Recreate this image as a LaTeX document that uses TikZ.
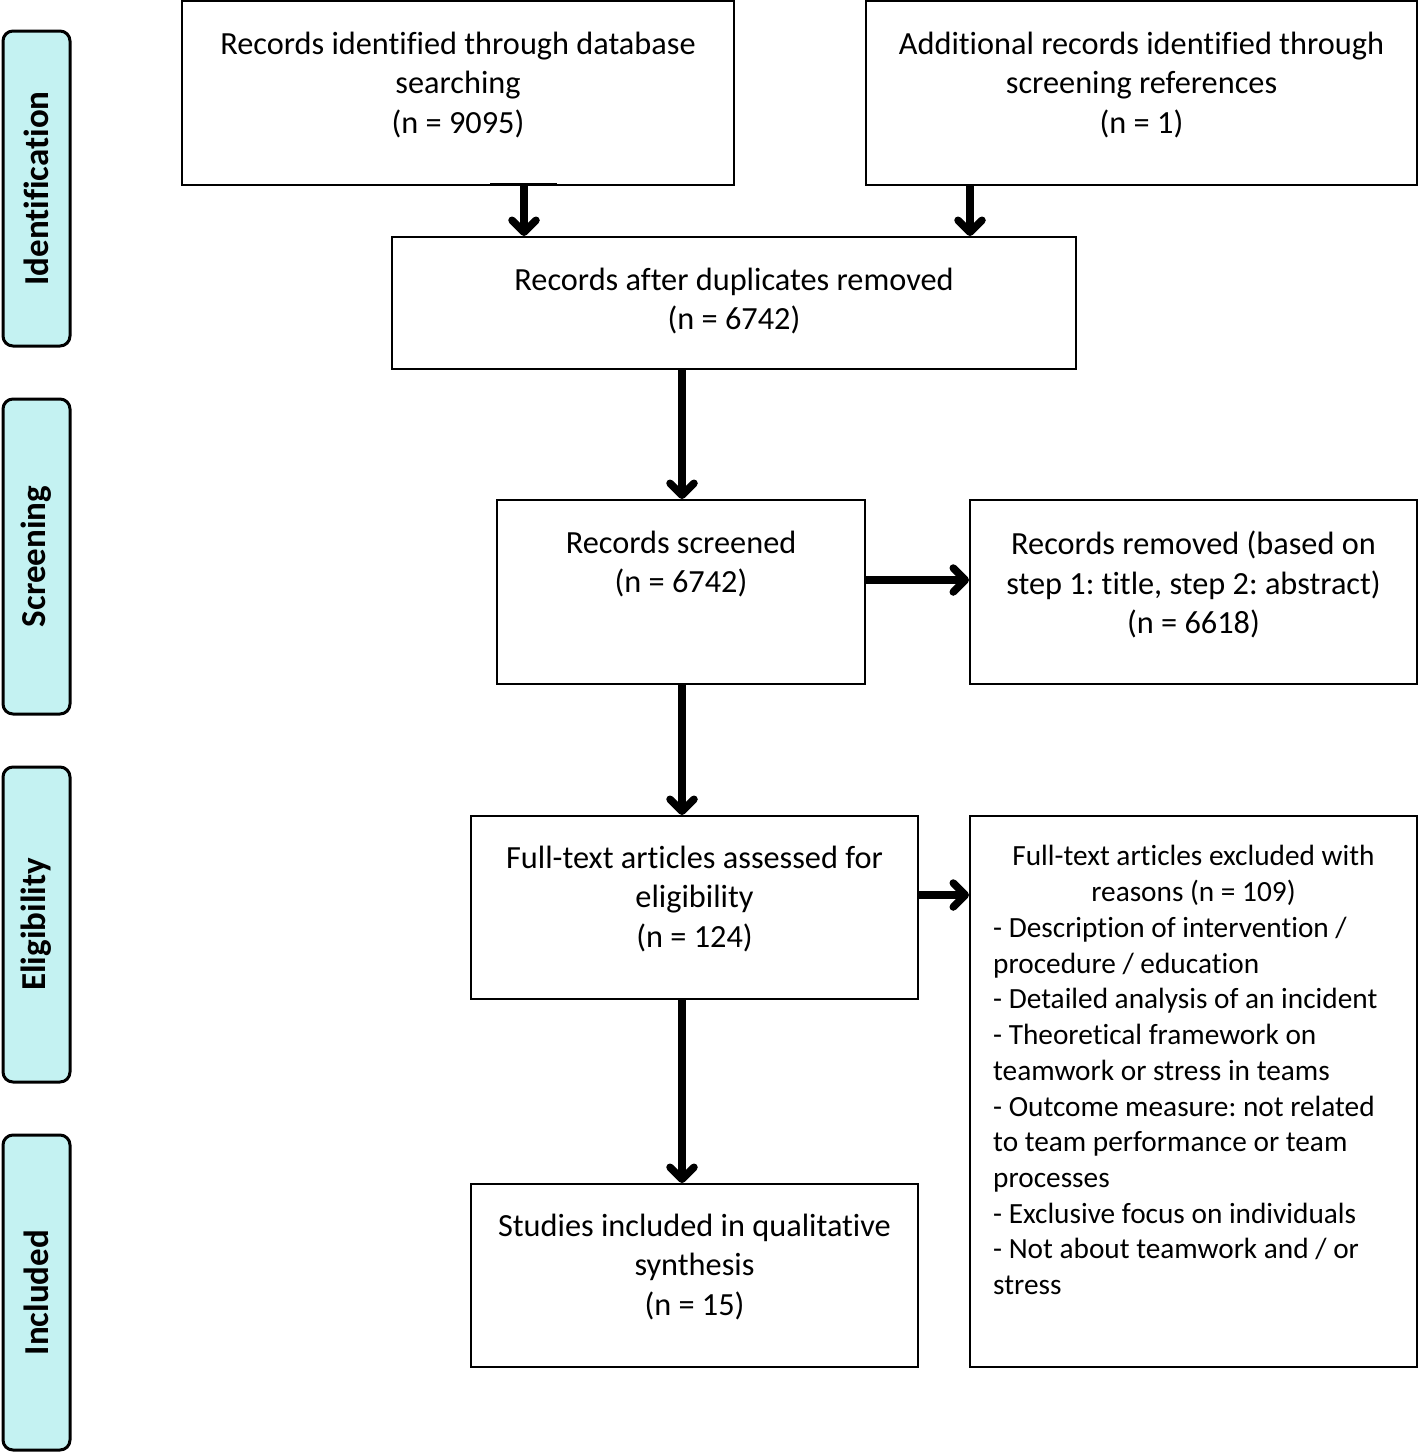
\documentclass[tikz,border=0pt]{standalone}
\usepackage{fontspec}
\setmainfont{Carlito}[Ligatures=NoCommon]
\frenchspacing
\usetikzlibrary{arrows.meta,fit}
\definecolor{sidefill}{HTML}{C4F2F2}
\begin{document}
\begin{tikzpicture}[x=1pt,y=-1pt,
  box/.style={draw, line width=2pt, inner sep=0pt},
  txt/.style={align=center, inner sep=0pt, font=\fontsize{32.3}{39.3}\selectfont},
  smalltxt/.style={inner sep=0pt, font=\fontsize{29.3}{35.7}\selectfont},
  side/.style={draw, line width=3pt, rounded corners=10pt, fill=sidefill, inner sep=0pt},
  sidetxt/.style={rotate=90, inner sep=0pt, font=\fontsize{35}{40}\selectfont\bfseries},
  arr/.style={line width=7.5pt, -{Straight Barb[length=12pt,width=24pt,round]}}]
\useasboundingbox (0,0) rectangle (1419,1452);
% side labels
\node[side, fit={(3,31)(70,346)}] (S1) {};
\node[sidetxt] (S1t) at (S1.center) {Identification};
\node[side, fit={(3,399)(70,714)}] (S2) {};
\node[sidetxt] (S2t) at (S2.center) {Screening};
\node[side, fit={(3,767)(70,1082)}] (S3) {};
\node[sidetxt] (S3t) at (S3.center) {Eligibility};
\node[side, fit={(3,1135)(70,1450)}] (S4) {};
\node[sidetxt] (S4t) at (S4.center) {Included};
% boxes
\node[box, fit={(182,1)(734,185)}] (A) {};
\node[txt, anchor=north] (At) at (458,32) {Records identified through database\\searching\\(n = 9095)};
\node[box, fit={(866,1)(1417,185)}] (B) {};
\node[txt, anchor=north] (Bt) at (1141.5,32) {Additional records identified through\\screening references\\(n = 1)};
\coordinate (dupL) at (490,184);
\coordinate (dupR) at (557,184);
\draw[line width=2pt] (dupL) -- (dupR);
\node[box, fit={(392,237)(1076,369)}] (C) {};
\node[txt, anchor=north] (Ct) at (734,268) {Records after duplicates removed\\(n = 6742)};
\node[box, fit={(497,500)(865,684)}] (D) {};
\node[txt, anchor=north] (Dt) at (681,531) {Records screened\\(n = 6742)};
\node[box, fit={(970,500)(1417,684)}] (E) {};
\node[txt, anchor=north] (Et) at (1193.5,531) {Records removed (based on\\step 1: title, step 2: abstract)\\(n = 6618)};
\node[box, fit={(471,816)(918,999)}] (F) {};
\node[txt, anchor=north] (Ft) at (694.5,846) {Full-text articles assessed for\\eligibility\\(n = 124)};
\node[box, fit={(970,816)(1417,1367)}] (G) {};
\node[smalltxt, align=center, anchor=north] (Gh) at (1193.5,845) {Full-text articles excluded with\\reasons (n = 109)};
\node[smalltxt, align=left, anchor=north west] (Gl) at (993,917) {- Description of intervention /\\procedure / education\\- Detailed analysis of an incident\\- Theoretical framework on\\teamwork or stress in teams\\- Outcome measure: not related\\to team performance or team\\processes\\- Exclusive focus on individuals\\- Not about teamwork and / or\\stress};
\node[box, fit={(471,1184)(918,1367)}] (H) {};
\node[txt, anchor=north] (Ht) at (694.5,1214) {Studies included in qualitative\\synthesis\\(n = 15)};
% arrows
\draw[arr] (524,0 |- A.south) -- (524,0 |- C.north);
\draw[arr] (970,0 |- B.south) -- (970,0 |- C.north);
\draw[arr] (682,0 |- C.south) -- (682,0 |- D.north);
\draw[arr] (D.east |- 0,580) -- (E.west |- 0,580);
\draw[arr] (682,0 |- D.south) -- (682,0 |- F.north);
\draw[arr] (F.east |- 0,895) -- (G.west |- 0,895);
\draw[arr] (682,0 |- F.south) -- (682,0 |- H.north);
\end{tikzpicture}
\end{document}
